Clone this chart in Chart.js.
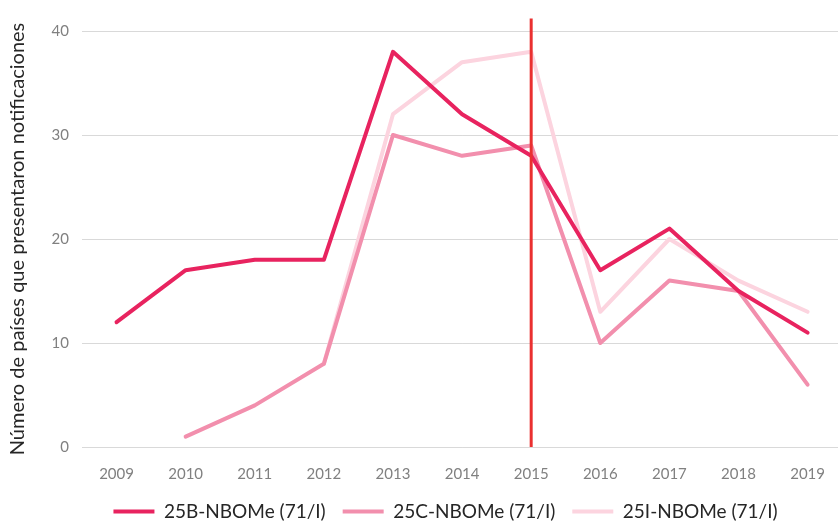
<!DOCTYPE html>
<html>
<head>
<meta charset="utf-8">
<script src="https://cdn.jsdelivr.net/npm/chart.js@4/dist/chart.umd.min.js"></script>
<style>
  html, body { margin: 0; padding: 0; background: #fff; overflow: hidden; }
</style>
</head>
<body>
<canvas id="grafico" width="843" height="531"></canvas>
<script>
const anios = ["2009", "2010", "2011", "2012", "2013", "2014", "2015", "2016", "2017", "2018", "2019"];
const serie25B = [12, 17, 18, 18, 38, 32, 28, 17, 21, 15, 11];
const serie25C = [null, 1, 4, 8, 30, 28, 29, 10, 16, 15, 6];
const serie25I = [null, null, null, 8, 32, 37, 38, 13, 20, 16, 13];
const nombres = ["25B-NBOMe (71/I)", "25C-NBOMe (71/I)", "25I-NBOMe (71/I)"];
const colores = ["#e8235f", "#f28fad", "#fcd4df"];
const ticksY = [0, 10, 20, 30, 40];
const anioMarcado = "2015";
const topeMarca = 41.2;

const fuente = "Lato, 'Open Sans', sans-serif";

// linea vertical roja sobre el año marcado
const lineaVertical = {
  id: "lineaVertical",
  afterDatasetsDraw(chart) {
    const ctx = chart.ctx;
    const x = chart.scales.x.getPixelForValue(anios.indexOf(anioMarcado));
    const y0 = chart.scales.y.getPixelForValue(0);
    const y1 = chart.scales.y.getPixelForValue(topeMarca);
    ctx.save();
    ctx.strokeStyle = "#ea3030";
    ctx.lineWidth = 3;
    ctx.beginPath();
    ctx.moveTo(x, y0);
    ctx.lineTo(x, y1);
    ctx.stroke();
    ctx.restore();
  }
};

// la leyenda de Excel va centrada un poco a la derecha
const moverLeyenda = {
  id: "moverLeyenda",
  afterLayout(chart) {
    chart.legend.left += 24;
    chart.legend.right += 24;
  }
};

function crearSerie(nombre, datos, color) {
  return {
    label: nombre,
    data: datos,
    borderColor: color,
    backgroundColor: color,
    borderWidth: 4,
    borderCapStyle: "round",
    borderJoinStyle: "round",
    pointRadius: 0,
    tension: 0,
    spanGaps: false
  };
}

new Chart(document.getElementById("grafico").getContext("2d"), {
  type: "line",
  data: {
    labels: anios,
    datasets: [
      crearSerie(nombres[0], serie25B, colores[0]),
      crearSerie(nombres[1], serie25C, colores[1]),
      crearSerie(nombres[2], serie25I, colores[2])
    ]
  },
  options: {
    responsive: false,
    animation: false,
    layout: { padding: { top: 31, left: 0, right: 0, bottom: 0 } },
    plugins: {
      tooltip: { enabled: false },
      legend: {
        position: "bottom",
        labels: {
          boxWidth: 41,
          boxHeight: 4,
          padding: 17,
          color: "#262626",
          font: { family: fuente, size: 19 },
          generateLabels(chart) {
            return Chart.defaults.plugins.legend.labels.generateLabels(chart).map(l => {
              l.lineWidth = 0;
              l.fillStyle = l.strokeStyle;
              return l;
            });
          }
        }
      }
    },
    scales: {
      x: {
        offset: true,
        grid: { display: false, drawTicks: false },
        border: { display: false },
        ticks: { color: "#808080", padding: 18, font: { family: fuente, size: 15 }, maxRotation: 0 },
        afterFit(scale) { scale.height = 38; }
      },
      y: {
        min: 0,
        max: 40,
        afterBuildTicks(scale) { scale.ticks = ticksY.map(v => ({ value: v })); },
        grid: { color: "#d9d9d9", lineWidth: 1, drawTicks: false },
        border: { display: false },
        ticks: { color: "#808080", padding: 13, font: { family: fuente, size: 15 } },
        title: {
          display: true,
          text: "Número de países que presentaron notificaciones",
          color: "#262626",
          font: { family: fuente, size: 20 },
          padding: { top: 6, bottom: 0 }
        },
        afterFit(scale) { scale.width = 82; }
      }
    }
  },
  plugins: [lineaVertical, moverLeyenda]
});
</script>
</body>
</html>
